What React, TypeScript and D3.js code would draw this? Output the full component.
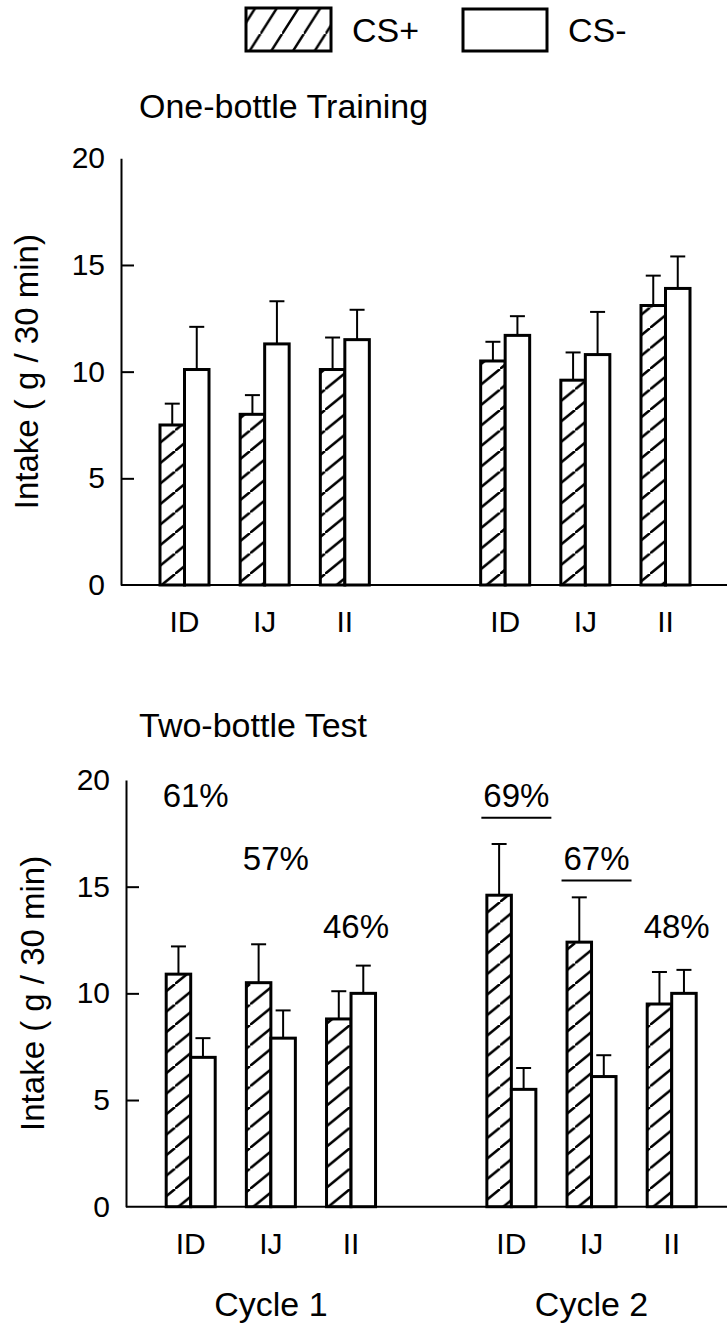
import React, { useEffect, useRef } from "react";
import * as d3 from "d3";

// groups: cycle 1 (ID, IJ, II), gap, cycle 2 (ID, IJ, II)
const categories = ["ID", "IJ", "II", "ID", "IJ", "II"];
const slots = [0, 1, 2, 4, 5, 6];
const cycles = ["Cycle 1", "Cycle 2"];
const cycleSlots = [1, 5];
const yTicks = [0, 5, 10, 15, 20];

// One-bottle Training
const trainPlus = [7.5, 8.0, 10.1, 10.5, 9.6, 13.1];
const trainPlusErr = [1.0, 0.9, 1.5, 0.9, 1.3, 1.4];
const trainMinus = [10.1, 11.3, 11.5, 11.7, 10.8, 13.9];
const trainMinusErr = [2.0, 2.0, 1.4, 0.9, 2.0, 1.5];

// Two-bottle Test
const testPlus = [10.9, 10.5, 8.8, 14.6, 12.4, 9.5];
const testPlusErr = [1.3, 1.8, 1.3, 2.4, 2.1, 1.5];
const testMinus = [7.0, 7.9, 10.0, 5.5, 6.1, 10.0];
const testMinusErr = [0.9, 1.3, 1.3, 1.0, 1.0, 1.1];
const testPercent = ["61%", "57%", "46%", "69%", "67%", "48%"];
const testPercentAt = [18.75, 15.8, 12.6, 18.75, 15.8, 12.6];
const testSignificant = [false, false, false, true, true, false];

const font = "'Liberation Sans', Arial, Helvetica, sans-serif";

export default function App() {
  const ref = useRef<SVGSVGElement>(null);

  useEffect(() => {
    const svg = d3.select(ref.current);
    svg.selectAll("*").remove();

    const defs = svg.append("defs");
    const hatch = (id: string, w: number, h: number) => {
      const p = defs.append("pattern")
        .attr("id", id)
        .attr("patternUnits", "userSpaceOnUse")
        .attr("width", w)
        .attr("height", h);
      p.append("rect").attr("width", w).attr("height", h).attr("fill", "#fff");
      p.append("path")
        .attr("d", `M0,${h}L${w},0M${-w},${h}L0,0M${w},${2 * h}L${2 * w},${h}`)
        .attr("stroke", "#000")
        .attr("stroke-width", 2.5);
    };
    hatch("hatchBar", 25, 20.5);
    hatch("hatchLegend", 21.7, 34);

    // legend
    const legend = svg.append("g");
    legend.append("rect")
      .attr("x", 246).attr("y", 8).attr("width", 85).attr("height", 43)
      .attr("fill", "url(#hatchLegend)").attr("stroke", "#000").attr("stroke-width", 3);
    legend.append("text")
      .attr("x", 352).attr("y", 42).attr("font-size", 34).attr("font-family", font)
      .text("CS+");
    legend.append("rect")
      .attr("x", 463).attr("y", 9).attr("width", 84).attr("height", 42)
      .attr("fill", "#fff").attr("stroke", "#000").attr("stroke-width", 3);
    legend.append("text")
      .attr("x", 568).attr("y", 42).attr("font-size", 34).attr("font-family", font)
      .text("CS-");

    const drawPanel = (opts: {
      title: string; titleY: number;
      plus: number[]; plusErr: number[]; minus: number[]; minusErr: number[];
      axisX: number; y0: number; y20: number; xFirst: number; xLast: number;
      labelX: number;
      withPercent: boolean;
    }) => {
      const g = svg.append("g");
      const y = d3.scaleLinear().domain([0, 20]).range([opts.y0, opts.y20]);
      const x = d3.scaleLinear().domain([0, 6]).range([opts.xFirst, opts.xLast]);
      const bw = 24.5;

      g.append("text")
        .attr("x", 139).attr("y", opts.titleY)
        .attr("font-size", 34).attr("font-family", font)
        .text(opts.title);

      // y axis
      const axis = g.append("g")
        .attr("transform", `translate(${opts.axisX},0)`)
        .call(d3.axisLeft(y).tickValues(yTicks).tickSizeInner(-13).tickSizeOuter(0).tickPadding(16));
      axis.attr("font-size", 30).attr("font-family", font);
      axis.select(".domain").attr("stroke", "#000").attr("stroke-width", 2);
      axis.selectAll<SVGLineElement, number>(".tick line")
        .attr("stroke", "#000").attr("stroke-width", 2)
        .attr("display", d => (d === 0 || d === 20 ? "none" : null));
      axis.selectAll(".tick text").attr("fill", "#000");

      // x axis line
      g.append("line")
        .attr("x1", opts.axisX).attr("x2", 727)
        .attr("y1", y(0)).attr("y2", y(0))
        .attr("stroke", "#000").attr("stroke-width", 2);

      g.append("text")
        .attr("transform", `translate(${opts.labelX},${y(10)}) rotate(-90)`)
        .attr("text-anchor", "middle")
        .attr("font-size", 33).attr("font-family", font)
        .text("Intake ( g / 30 min)");

      // error bars (upper only)
      const errs = [
        ...opts.plus.map((v, i) => ({ cx: x(slots[i]) - bw / 2, v, e: opts.plusErr[i] })),
        ...opts.minus.map((v, i) => ({ cx: x(slots[i]) + bw / 2, v, e: opts.minusErr[i] })),
      ];
      const eg = g.append("g").attr("stroke", "#000").attr("stroke-width", 2);
      eg.selectAll("line.stem").data(errs).enter().append("line")
        .attr("x1", d => d.cx).attr("x2", d => d.cx)
        .attr("y1", d => y(d.v)).attr("y2", d => y(d.v + d.e));
      eg.selectAll("line.cap").data(errs).enter().append("line")
        .attr("x1", d => d.cx - 7.5).attr("x2", d => d.cx + 7.5)
        .attr("y1", d => y(d.v + d.e)).attr("y2", d => y(d.v + d.e));

      // bars
      g.selectAll("rect.plus").data(opts.plus).enter().append("rect")
        .attr("x", (d, i) => x(slots[i]) - bw)
        .attr("y", d => y(d))
        .attr("width", bw)
        .attr("height", d => y(0) - y(d))
        .attr("fill", "url(#hatchBar)")
        .attr("stroke", "#000").attr("stroke-width", 3);
      g.selectAll("rect.minus").data(opts.minus).enter().append("rect")
        .attr("x", (d, i) => x(slots[i]))
        .attr("y", d => y(d))
        .attr("width", bw)
        .attr("height", d => y(0) - y(d))
        .attr("fill", "#fff")
        .attr("stroke", "#000").attr("stroke-width", 3);

      // category labels
      g.selectAll("text.cat").data(categories).enter().append("text")
        .attr("x", (d, i) => x(slots[i]))
        .attr("y", y(0) + 47)
        .attr("text-anchor", "middle")
        .attr("font-size", 30).attr("font-family", font)
        .text(d => d);

      if (opts.withPercent) {
        g.selectAll("text.pct").data(testPercent).enter().append("text")
          .attr("x", (d, i) => x(slots[i]) + 5)
          .attr("y", (d, i) => y(testPercentAt[i]))
          .attr("text-anchor", "middle")
          .attr("font-size", 33).attr("font-family", font)
          .text(d => d);
        const sig = testPercent.map((d, i) => i).filter(i => testSignificant[i]);
        g.selectAll("line.sig").data(sig).enter().append("line")
          .attr("x1", i => x(slots[i]) + 5 - 35)
          .attr("x2", i => x(slots[i]) + 5 + 35)
          .attr("y1", i => y(testPercentAt[i]) + 11)
          .attr("y2", i => y(testPercentAt[i]) + 11)
          .attr("stroke", "#000").attr("stroke-width", 2);

        g.selectAll("text.cycle").data(cycles).enter().append("text")
          .attr("x", (d, i) => x(cycleSlots[i]))
          .attr("y", 1316)
          .attr("text-anchor", "middle")
          .attr("font-size", 34).attr("font-family", font)
          .text(d => d);
      }
    };

    drawPanel({
      title: "One-bottle Training", titleY: 118,
      plus: trainPlus, plusErr: trainPlusErr, minus: trainMinus, minusErr: trainMinusErr,
      axisX: 121, y0: 585, y20: 158.3, xFirst: 184.5, xLast: 665.5, labelX: 38,
      withPercent: false,
    });
    drawPanel({
      title: "Two-bottle Test", titleY: 737,
      plus: testPlus, plusErr: testPlusErr, minus: testMinus, minusErr: testMinusErr,
      axisX: 126, y0: 1206.7, y20: 780, xFirst: 190.7, xLast: 671.7, labelX: 44,
      withPercent: true,
    });
  }, []);

  return (
    <svg
      ref={ref}
      width={727}
      height={1327}
      style={{ position: "absolute", left: 0, top: 0, background: "#fff" }}
    />
  );
}
